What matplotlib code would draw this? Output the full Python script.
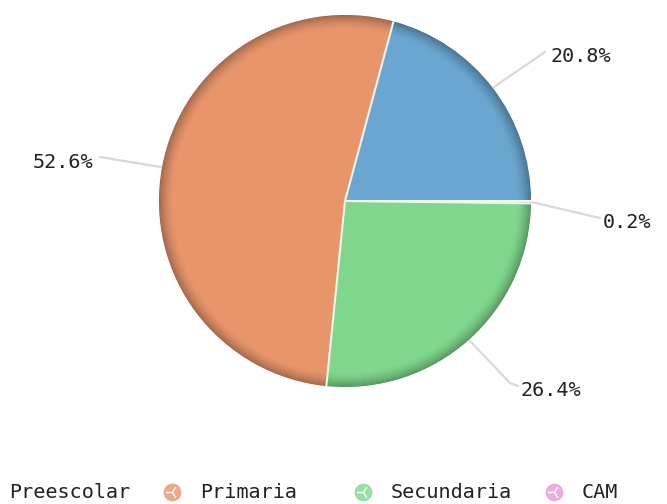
import matplotlib
matplotlib.use("Agg")
import matplotlib.pyplot as plt
from matplotlib.patches import Wedge
from matplotlib.colors import to_rgb
import numpy as np

# Enrolment share by school level
categories = ["Preescolar", "Primaria", "Secundaria", "CAM"]
shares = [20.8, 52.6, 26.4, 0.2]
value_labels = ["20.8%", "52.6%", "26.4%", "0.2%"]
colors = ["#6aa6cf", "#e8956c", "#80d68c", "#e89ad8"]

W, H = 667, 504
fig = plt.figure(figsize=(W / 100, H / 100), dpi=100)
ax = fig.add_axes([0, 0, 1, 1])

cx, cy, R = 345, H - 201, 186

wedges, _ = ax.pie(
    shares,
    colors=colors,
    startangle=0,
    counterclock=True,
    center=(cx, cy),
    radius=R,
    wedgeprops=dict(edgecolor="none", linewidth=0),
)

# darkened rim in each slice's own hue for a rounded look
n_rings = 14
for w, col in zip(wedges, colors):
    dark = tuple(c * 0.48 for c in to_rgb(col))
    for k in range(n_rings):
        a = 0.6 * (1 - k / n_rings) ** 1.7
        ax.add_patch(Wedge((cx, cy), R - k, w.theta1, w.theta2, width=1.0,
                           facecolor=dark, edgecolor="none", alpha=a, zorder=3))

# light radial seams between slices
for w in wedges:
    t = np.deg2rad(w.theta1)
    ax.plot([cx, cx + R * np.cos(t)], [cy, cy + R * np.sin(t)],
            color="#eef6ea", lw=1.5, zorder=3.5, solid_capstyle="butt")

# leader lines and value labels (label end points in pixel layout)
label_layout = [
    {"path": [(545, 52)], "text": (551, 57), "ha": "left"},
    {"path": [(100, 157)], "text": (93, 162), "ha": "right"},
    {"path": [(510, 383), (518, 386)], "text": (521, 390), "ha": "left"},
    {"path": [(600, 218)], "text": (603, 222), "ha": "left"},
]
label_font = dict(family="DejaVu Sans Mono", fontsize=14.5, color="#222222")
for w, lab, lay in zip(wedges, value_labels, label_layout):
    mid = np.deg2rad((w.theta1 + w.theta2) / 2)
    start = (cx + (R + 1) * np.cos(mid), cy + (R + 1) * np.sin(mid))
    pts = [start] + [(x, H - y) for x, y in lay["path"]]
    xs, ys = zip(*pts)
    ax.plot(xs, ys, color="#d9d9d9", lw=1.6, zorder=4, solid_capstyle="round")
    tx, ty = lay["text"]
    ax.text(tx, H - ty, lab, ha=lay["ha"], va="center", zorder=5, **label_font)

# legend row along the bottom
legend_y = H - 492
for i, (cat, col) in enumerate(zip(categories, colors)):
    x_text = 9 + 191 * i
    x_icon = x_text - 28
    ax.scatter([x_icon], [legend_y], s=150, color=col, edgecolors=col,
               linewidths=0.5, zorder=5, clip_on=False, alpha=0.8)
    ax.scatter([x_icon], [legend_y], s=90, marker="3", color="white",
               linewidths=1.0, zorder=6, clip_on=False)
    ax.text(x_text, legend_y, cat, ha="left", va="center", zorder=5,
            family="DejaVu Sans Mono", fontsize=14.5, color="#222222")

ax.set_xlim(0, W)
ax.set_ylim(0, H)
ax.set_aspect("equal")
ax.axis("off")

fig.savefig("out.png", dpi=100, facecolor="white")
